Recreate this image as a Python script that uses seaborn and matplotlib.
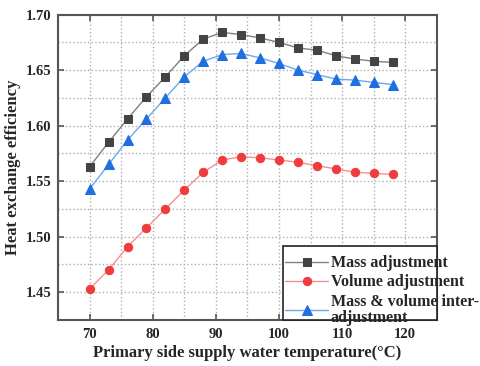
import numpy as np
import pandas as pd
import matplotlib
matplotlib.use("Agg")
import matplotlib.pyplot as plt
import seaborn as sns
from matplotlib.patches import Rectangle
from matplotlib.ticker import MultipleLocator

# supply water temperature (deg C)
temps = [70, 73, 76, 79, 82, 85, 88, 91, 94, 97, 100, 103, 106, 109, 112, 115, 118]

mass_adj = [1.563, 1.585, 1.606, 1.626, 1.644, 1.663, 1.678, 1.684, 1.682, 1.679,
            1.675, 1.670, 1.668, 1.663, 1.660, 1.658, 1.657]
volume_adj = [1.453, 1.470, 1.491, 1.508, 1.525, 1.542, 1.558, 1.569, 1.572, 1.571,
              1.569, 1.567, 1.564, 1.561, 1.558, 1.557, 1.556]
inter_adj = [1.543, 1.565, 1.587, 1.606, 1.625, 1.644, 1.658, 1.664, 1.665, 1.661,
             1.656, 1.650, 1.646, 1.642, 1.641, 1.639, 1.637]

labels = ["Mass adjustment", "Volume adjustment", "Mass & volume inter-\nadjustment"]

df = pd.DataFrame({"temp": temps, "mass": mass_adj, "volume": volume_adj, "inter": inter_adj})

sns.set_style("ticks")
plt.rcParams['font.family'] = ['Liberation Serif', 'DejaVu Serif']
plt.rcParams['font.weight'] = 'bold'

fig, ax = plt.subplots(figsize=(4.8, 3.66), dpi=100)
fig.subplots_adjust(left=0.121, right=0.910, top=0.96, bottom=0.126)

sns.lineplot(data=df, x="temp", y="mass", ax=ax, color="#808080", lw=1,
             marker="s", markersize=6, markerfacecolor="#444444", markeredgecolor="#444444",
             label=labels[0])
sns.lineplot(data=df, x="temp", y="volume", ax=ax, color="#f59090", lw=1,
             marker="o", markersize=6, markerfacecolor="#f03c3c", markeredgecolor="#f03c3c",
             label=labels[1])
sns.lineplot(data=df, x="temp", y="inter", ax=ax, color="#6aa8f0", lw=1,
             marker="^", markersize=7, markerfacecolor="#1f6fe0", markeredgecolor="#1f6fe0",
             label=labels[2])

ax.set_xlim(65, 125)
ax.set_ylim(1.425, 1.70)
ax.xaxis.set_major_locator(MultipleLocator(10))
ax.xaxis.set_minor_locator(MultipleLocator(5))
ax.yaxis.set_major_locator(MultipleLocator(0.05))
ax.yaxis.set_minor_locator(MultipleLocator(0.025))
ax.set_xticks([70, 80, 90, 100, 110, 120])
ax.yaxis.set_major_formatter(matplotlib.ticker.FormatStrFormatter('%.2f'))

ax.grid(True, which="both", linestyle=":", color="#b0b0b0", lw=1)
ax.tick_params(which="major", direction="in", length=4, width=1.2, top=True, right=True,
               labelsize=10.5, color="#555555")
ax.tick_params(axis="x", pad=6)
ax.tick_params(axis="y", pad=5)
ax.tick_params(which="minor", length=0)
for lbl in ax.get_xticklabels() + ax.get_yticklabels():
    lbl.set_fontweight("bold")

for s in ax.spines.values():
    s.set_color("#555555")
    s.set_linewidth(1.5)

ax.set_xlabel("Primary side supply water temperature(°C)", fontsize=12, fontweight="bold", labelpad=3)
ax.set_ylabel("Heat exchange efficiency", fontsize=12, fontweight="bold", labelpad=3)

# legend box in the lower right corner
ax.add_patch(Rectangle((0.593, 0.0), 0.407, 0.243, transform=ax.transAxes,
                       facecolor="white", edgecolor="#222222", lw=1.2, zorder=5, clip_on=False))
leg = ax.legend(frameon=False, loc="upper left", bbox_to_anchor=(0.583, 0.233),
                fontsize=11.5, handlelength=2.7, handletextpad=0.15, labelspacing=0.2,
                borderaxespad=0)
leg.set_zorder(6)
for t in leg.get_texts():
    t.set_fontweight("bold")
    t.set_linespacing(1.05)

fig.savefig("out.png", dpi=100)
